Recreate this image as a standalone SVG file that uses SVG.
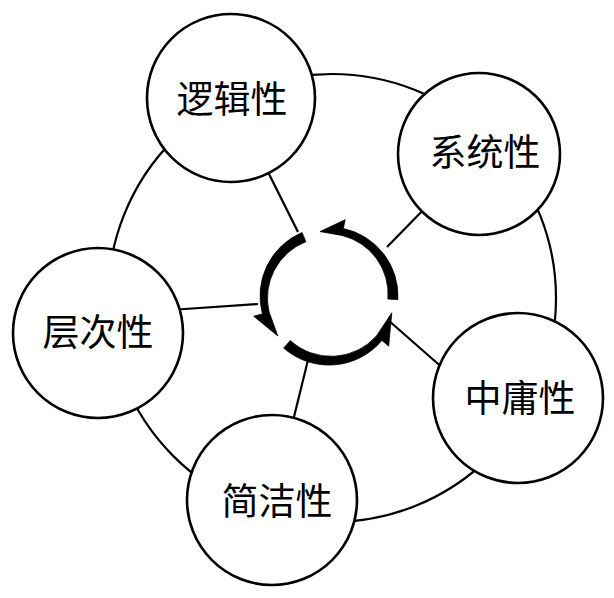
<svg xmlns="http://www.w3.org/2000/svg" width="614" height="598" viewBox="0 0 614 598">
<style>
.ln{fill:none;stroke:#000;stroke-width:2.2}
.nd{fill:#fff;stroke:#000;stroke-width:2.6}
.lb{font-family:"Noto Sans CJK SC","Noto Sans CJK JP",sans-serif;font-size:37px;fill:#000;text-anchor:middle}
.ar{fill:#000;stroke:#000;stroke-width:0.8;stroke-linejoin:round}
</style>
<rect width="614" height="598" fill="#fff"/>
<g id="connectors">
<circle class="ln" cx="332" cy="298" r="224"/>
<line class="ln" x1="298" y1="232" x2="231" y2="98"/>
<line class="ln" x1="387" y1="247" x2="479" y2="153"/>
<line class="ln" x1="258" y1="304" x2="170" y2="310"/>
<line class="ln" x1="308" y1="360" x2="292" y2="425"/>
<line class="ln" x1="388" y1="320" x2="445" y2="370"/>
</g>
<g id="cycle">
<path class="ar" d="M397.9,299.6 A69 69 0 0 0 343.3,228.5 L345.2,219.7 L320,231.6 L341.9,235.4 A60.5 60.5 0 0 1 387.9,299.1 Z"/>
<path class="ar" d="M302,232.5 A69 69 0 0 0 262.4,313.9 L253.7,316.2 L277.8,336 L269.1,312 A60.5 60.5 0 0 1 305.9,241.7 Z"/>
<path class="ar" d="M283.7,348.1 A69 69 0 0 0 381.9,340.4 L388.7,346.1 L391.8,312.8 L376.5,335.9 A60.5 60.5 0 0 1 290.3,340.5 Z"/>
</g>
<g id="node-luoji">
<circle class="nd" cx="231" cy="98" r="84"/>
<text class="lb" x="232" y="113">逻辑性</text>
</g>
<g id="node-xitong">
<circle class="nd" cx="479" cy="154" r="81"/>
<text class="lb" x="485" y="166">系统性</text>
</g>
<g id="node-cengci">
<circle class="nd" cx="98" cy="333" r="85"/>
<text class="lb" x="98" y="346">层次性</text>
</g>
<g id="node-jianjie">
<circle class="nd" cx="272" cy="500" r="85"/>
<text class="lb" x="277" y="515">简洁性</text>
</g>
<g id="node-zhongyong">
<circle class="nd" cx="518" cy="398" r="85"/>
<text class="lb" x="520" y="412">中庸性</text>
</g>
</svg>
